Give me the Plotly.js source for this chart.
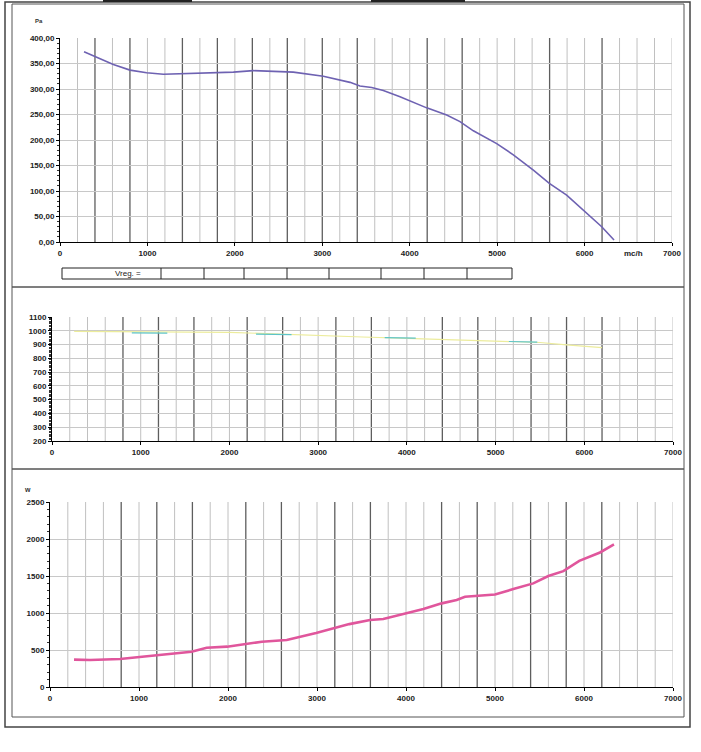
<!DOCTYPE html>
<html>
<head>
<meta charset="utf-8">
<script src="https://cdn.plot.ly/plotly-3.0.1.min.js"></script>
<style>html,body{margin:0;padding:0;background:#fff;}#chart{width:701px;height:752px;}</style>
</head>
<body>
<div id="chart"></div>
<script>
// ---- data ----
// Top: pressure curve (Pa) vs flow (mc/h)
var pressFlow = [275, 458, 610, 801, 991, 1182, 1601, 1983, 2211, 2669, 3012, 3317, 3431, 3565, 3698, 3889, 4194, 4423, 4575, 4728, 4995, 5185, 5414, 5597, 5795, 5986, 6196, 6337];
var pressPa   = [373, 360, 348, 337, 332, 329, 331, 333, 336, 333, 325, 313, 306, 303, 297, 285, 263, 249, 236, 218, 193, 171, 141, 115, 92, 63, 30, 4];

// Middle: speed curve (faint yellow) with cyan fragments
var speedFlow = [250, 600, 1000, 1500, 2000, 2500, 3000, 3500, 4000, 4500, 5000, 5500, 5800, 6200];
var speedVal  = [995, 993, 990, 990, 988, 978, 965, 955, 945, 935, 925, 915, 898, 878];
var speedCyanFlow = [900, 1300, null, 2300, 2700, null, 3750, 4100, null, 5150, 5470];
var speedCyanVal  = [985, 983, null, 975, 972, null, 950, 947, null, 922, 918];

// Bottom: power curve (W) vs flow
var powerFlow = [270, 450, 787, 990, 1200, 1590, 1760, 1990, 2190, 2380, 2660, 2990, 3363, 3596, 3745, 3989, 4195, 4401, 4569, 4663, 4794, 5000, 5206, 5430, 5599, 5768, 5947, 6180, 6337];
var powerW    = [370, 365, 378, 400, 430, 477, 530, 545, 580, 612, 635, 730, 850, 905, 918, 995, 1053, 1130, 1175, 1220, 1228, 1250, 1323, 1400, 1500, 1566, 1705, 1818, 1926];

// tick labels
var pressTickVals = [0, 50, 100, 150, 200, 250, 300, 350, 400];
var pressTickText = ["0,00", "50,00", "100,00", "150,00", "200,00", "250,00", "300,00", "350,00", "400,00"];

// darker vertical grid lines as printed
var darkGridTop = [400, 800, 1400, 1800, 2200, 2600, 3000, 3400, 4200, 4600, 5600, 6200];
var darkGridLower = [800, 1200, 1600, 2200, 2600, 3200, 3600, 4400, 4800, 5400, 5800, 6200];

// ---- layout helpers ----
var W = 701, H = 752;
function px(x){ return x / W; }
function py(y){ return 1 - y / H; }

var tickFont = {family: "Liberation Sans, Arial, sans-serif", size: 8, color: "#222", weight: "bold"};

function xAxis(l, r, anchor){
  return {
    domain: [px(l), px(r)], anchor: anchor, range: [0, 7000], dtick: 1000, tick0: 0,
    showgrid: false, zeroline: false,
    showline: true, linecolor: "#000", linewidth: 1,
    ticks: "outside", ticklen: 3, tickcolor: "#000", tickfont: tickFont,
    fixedrange: true
  };
}
function yAxis(b, t, anchor, range, dtick, mdtick){
  return {
    domain: [py(b), py(t)], anchor: anchor, range: range, dtick: dtick, tick0: 0,
    showgrid: true, gridcolor: "#c8c8c8", gridwidth: 1, zeroline: false,
    showline: true, linecolor: "#000", linewidth: 1,
    ticks: "outside", ticklen: 3, tickcolor: "#000", tickfont: tickFont,
    minor: {dtick: mdtick, tick0: 0, ticks: "outside", ticklen: 2, tickcolor: "#333", showgrid: false},
    fixedrange: true
  };
}

var traces = [
  {x: pressFlow, y: pressPa, xaxis: "x", yaxis: "y", mode: "lines", type: "scatter",
   line: {color: "#6e62b2", width: 1.6}, hoverinfo: "skip"},
  {x: speedFlow, y: speedVal, xaxis: "x2", yaxis: "y2", mode: "lines", type: "scatter",
   line: {color: "#ecec9c", width: 1.2}, hoverinfo: "skip"},
  {x: speedCyanFlow, y: speedCyanVal, xaxis: "x2", yaxis: "y2", mode: "lines", type: "scatter",
   line: {color: "#5ec4c8", width: 1.2}, connectgaps: false, hoverinfo: "skip"},
  {x: powerFlow, y: powerW, xaxis: "x3", yaxis: "y3", mode: "lines", type: "scatter",
   line: {color: "#e0569c", width: 2.6}, hoverinfo: "skip"}
];

var shapes = [];
// vertical grid: light every 200, darker where printed darker
function vGrid(dark, xr, yr){
  for (var v = 200; v <= 7000; v += 200){
    var isDark = dark.indexOf(v) >= 0;
    shapes.push({type: "line", xref: xr, yref: yr + " domain", x0: v, x1: v, y0: 0, y1: 1,
      line: {color: isDark ? "#5e5e5e" : "#c0c0c0", width: isDark ? 1.3 : 1}, layer: "below"});
  }
}
vGrid(darkGridTop, "x", "y");
vGrid(darkGridLower, "x2", "y2");
vGrid(darkGridLower, "x3", "y3");

function rect(x0, y0, x1, y1, color, width){
  shapes.push({type: "rect", xref: "paper", yref: "paper", x0: px(x0), x1: px(x1), y0: py(y1), y1: py(y0),
    line: {color: color, width: width}, fillcolor: "rgba(0,0,0,0)", layer: "above"});
}
// outer page frame and panel frames
rect(5, 2, 690, 727, "#444", 1.5);
rect(12, 4, 684, 287, "#555", 1);
rect(12, 287, 684, 469, "#555", 1);
rect(12, 469, 684, 717, "#555", 1);
// scan edge marks at top
shapes.push({type: "line", xref: "paper", yref: "paper", x0: px(103), x1: px(192), y0: py(1), y1: py(1), line: {color: "#222", width: 2}});
shapes.push({type: "line", xref: "paper", yref: "paper", x0: px(371), x1: px(465), y0: py(1), y1: py(1), line: {color: "#222", width: 2}});

// Vreg table row under top chart
var tableEdges = [62, 161, 204, 244, 287, 329, 381, 424, 467, 512];
rect(tableEdges[0], 268, tableEdges[tableEdges.length - 1], 279, "#222", 1);
for (var i = 1; i < tableEdges.length - 1; i++){
  shapes.push({type: "line", xref: "paper", yref: "paper", x0: px(tableEdges[i]), x1: px(tableEdges[i]),
    y0: py(279), y1: py(268), line: {color: "#222", width: 1}});
}

var labFont = {family: "Liberation Sans, Arial, sans-serif", size: 8, color: "#222", weight: "bold"};
var annotations = [
  {text: "Pa", x: px(33), y: py(16), xref: "paper", yref: "paper", showarrow: false, font: {family: labFont.family, size: 6, color: "#333", weight: "bold"}},
  {text: "mc/h", x: px(645), y: py(247), xref: "paper", yref: "paper", showarrow: false, font: labFont},
  {text: "Vreg. =", x: px(113), y: py(274), xref: "paper", yref: "paper", showarrow: false, font: {family: labFont.family, size: 8, color: "#222"}},
  {text: "w", x: px(22), y: py(490), xref: "paper", yref: "paper", showarrow: false, font: {family: labFont.family, size: 7, color: "#333", weight: "bold"}}
];

var topY = yAxis(242, 38, "x", [0, 400], 50, 10);
topY.tickvals = pressTickVals;
topY.ticktext = pressTickText;
topY.tickmode = "array";

var layout = {
  width: W, height: H,
  margin: {l: 0, r: 0, t: 0, b: 0, pad: 0},
  paper_bgcolor: "#fff", plot_bgcolor: "#fff",
  showlegend: false,
  xaxis: xAxis(60, 672, "y"),
  yaxis: topY,
  xaxis2: xAxis(52, 673, "y2"),
  yaxis2: yAxis(441, 317, "x2", [200, 1100], 100, 10),
  xaxis3: xAxis(50, 673, "y3"),
  yaxis3: yAxis(687, 502, "x3", [0, 2500], 500, 100),
  shapes: shapes,
  annotations: annotations
};

Plotly.newPlot("chart", traces, layout, {displayModeBar: false, staticPlot: true});
</script>
</body>
</html>
